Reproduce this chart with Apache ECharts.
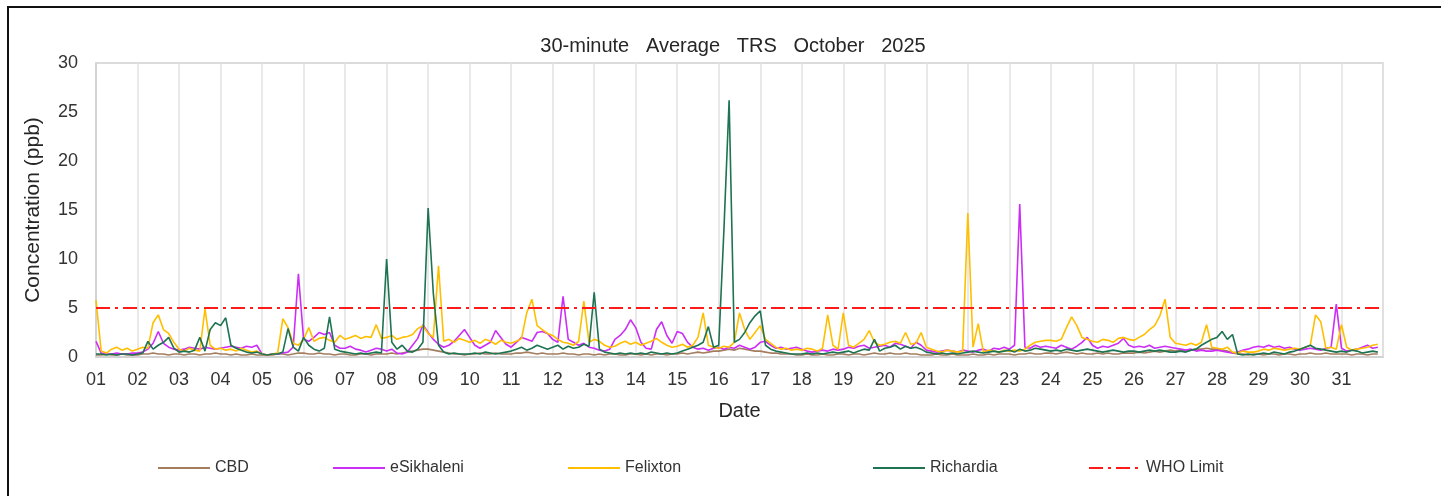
<!DOCTYPE html>
<html>
<head>
<meta charset="utf-8">
<script src="https://cdn.jsdelivr.net/npm/echarts@6/dist/echarts.min.js"></script>
<style>
  html, body { margin: 0; padding: 0; background: #fff; }
  #chart { width: 1441px; height: 496px; }
</style>
</head>
<body>
<div id="chart"></div>
<script>
// 3-hourly readings (8 per day), one row per day of October 2025
const stepsPerDay = 8;
const dayLabels = ['01','02','03','04','05','06','07','08','09','10','11','12','13','14','15','16',
  '17','18','19','20','21','22','23','24','25','26','27','28','29','30','31'];

const cbd = [
  0.2,0.2,0.3,0.2,0.2,0.3,0.2,0.2,
  0.2,0.3,0.3,0.4,0.3,0.3,0.2,0.3,
  0.3,0.2,0.3,0.3,0.2,0.3,0.3,0.4,
  0.3,0.3,0.2,0.3,0.2,0.2,0.3,0.2,
  0.2,0.2,0.2,0.3,0.3,0.2,0.3,0.4,
  0.4,0.3,0.3,0.4,0.3,0.3,0.2,0.3,
  0.3,0.2,0.2,0.3,0.3,0.2,0.3,0.3,
  0.3,0.4,0.3,0.4,0.5,0.6,0.7,0.8,
  0.8,0.7,0.6,0.5,0.4,0.3,0.3,0.2,
  0.3,0.3,0.4,0.3,0.3,0.4,0.3,0.3,
  0.3,0.4,0.4,0.5,0.4,0.3,0.4,0.3,
  0.3,0.3,0.4,0.3,0.3,0.2,0.3,0.3,
  0.2,0.3,0.2,0.3,0.3,0.2,0.2,0.3,
  0.3,0.2,0.3,0.2,0.3,0.3,0.2,0.3,
  0.3,0.4,0.3,0.4,0.5,0.4,0.5,0.6,
  0.6,0.7,0.8,0.7,0.9,0.8,0.7,0.6,
  0.6,0.5,0.4,0.4,0.3,0.3,0.3,0.2,
  0.2,0.3,0.2,0.2,0.3,0.2,0.2,0.3,
  0.3,0.2,0.3,0.3,0.2,0.3,0.4,0.3,
  0.3,0.4,0.3,0.3,0.4,0.3,0.3,0.2,
  0.2,0.2,0.3,0.2,0.2,0.3,0.2,0.2,
  0.2,0.3,0.2,0.2,0.3,0.2,0.3,0.3,
  0.3,0.2,0.3,0.3,0.4,0.3,0.3,0.4,
  0.4,0.3,0.4,0.5,0.4,0.3,0.4,0.3,
  0.3,0.4,0.3,0.4,0.3,0.3,0.4,0.4,
  0.4,0.5,0.4,0.5,0.6,0.5,0.6,0.7,
  0.6,0.7,0.6,0.7,0.8,0.8,0.9,0.8,
  0.8,0.7,0.6,0.4,0.3,0.3,0.2,0.3,
  0.3,0.2,0.3,0.3,0.2,0.3,0.3,0.2,
  0.3,0.3,0.4,0.3,0.3,0.4,0.3,0.3,
  0.3,0.3,0.2,0.3,0.3,0.2,0.3,0.3
];

const esikhaleni = [
  1.6,0.4,0.3,0.3,0.4,0.3,0.3,0.4,
  0.4,0.5,0.8,1.4,2.6,1.4,1.0,0.8,
  0.7,0.8,1.0,0.9,0.8,1.0,0.9,0.8,
  0.9,1.0,1.1,1.0,0.9,1.1,1.0,1.2,
  0.3,0.2,0.3,0.3,0.4,0.5,1.0,8.5,
  1.8,1.6,2.0,2.5,2.3,2.5,1.2,0.9,
  0.9,1.1,0.8,0.7,0.5,0.7,0.9,0.8,
  0.6,0.8,0.4,0.3,0.5,1.2,1.9,3.3,
  2.5,1.8,1.3,1.0,1.2,1.6,2.2,2.8,
  2.0,1.2,0.9,1.2,1.5,2.7,2.0,1.3,
  1.0,1.5,2.0,1.8,1.6,2.5,2.6,2.4,
  1.8,1.5,6.2,1.8,1.5,1.2,1.4,1.0,
  0.9,0.7,0.6,0.8,1.8,2.2,2.8,3.8,
  3.0,1.5,0.9,0.8,2.8,3.6,2.2,1.4,
  2.6,2.4,1.5,1.0,0.8,0.9,0.7,0.9,
  1.0,0.8,1.0,0.9,1.2,1.0,0.8,1.0,
  1.5,1.6,1.2,0.9,1.0,0.8,0.9,1.0,
  0.8,0.6,0.5,0.6,0.7,0.6,0.8,0.7,
  0.8,1.0,0.9,1.1,1.2,0.9,1.0,1.1,
  1.2,1.0,1.4,1.3,1.1,0.9,1.5,1.2,
  0.7,0.6,0.5,0.6,0.7,0.6,0.5,0.7,
  0.6,0.5,0.7,0.8,0.6,0.9,0.8,1.0,
  0.8,1.2,15.6,1.0,0.9,1.2,1.0,1.1,
  1.0,0.9,1.2,1.0,0.8,1.1,1.5,2.0,
  1.2,0.9,1.1,1.0,1.2,1.4,1.9,1.2,
  1.0,1.1,1.0,1.2,0.9,1.0,1.1,1.0,
  0.9,0.8,0.7,0.8,0.6,0.7,0.6,0.6,
  0.7,0.6,0.5,0.4,0.5,0.7,0.8,1.0,
  1.1,1.0,1.2,1.0,1.1,0.9,1.0,0.8,
  0.7,0.8,0.9,0.8,0.7,0.9,1.0,5.4,
  0.9,0.6,0.7,0.8,1.0,1.2,0.9,1.0
];

const felixton = [
  5.8,0.6,0.4,0.8,1.0,0.7,0.9,0.6,
  0.8,1.0,0.9,3.5,4.3,2.8,2.4,1.5,
  0.8,0.6,0.9,0.7,0.6,4.9,1.2,0.8,
  0.9,0.7,0.8,0.6,0.9,0.7,0.5,0.6,
  0.3,0.2,0.3,0.4,3.9,3.0,1.4,1.2,
  1.8,3.0,1.6,1.9,2.0,1.7,1.5,2.2,
  1.8,2.0,2.2,1.9,2.1,2.0,3.3,1.9,
  2.0,2.2,1.8,2.0,2.1,2.3,2.9,3.2,
  2.4,2.0,9.3,1.6,1.8,1.5,1.9,1.7,
  1.5,1.7,1.4,1.8,1.6,1.3,1.7,1.5,
  1.4,1.6,1.9,4.5,5.9,3.2,2.8,2.4,
  2.2,1.8,1.5,1.4,1.2,1.6,5.7,1.5,
  1.8,1.6,1.2,1.0,1.1,1.4,1.6,1.3,
  1.5,1.2,1.4,1.6,1.9,1.5,1.2,1.0,
  1.1,1.3,1.0,1.2,2.0,4.5,1.2,1.0,
  0.9,1.1,1.0,1.5,4.5,2.8,1.8,2.5,
  3.2,1.8,1.4,1.0,0.8,0.9,0.7,0.8,
  0.7,0.9,0.8,0.6,0.9,4.3,1.2,0.8,
  4.5,1.2,1.0,1.4,1.8,2.7,1.5,1.2,
  1.3,1.5,1.6,1.4,2.5,1.3,1.4,2.5,
  1.0,0.8,0.6,0.5,0.7,0.6,0.5,0.6,
  14.7,1.0,3.4,0.5,0.7,0.6,0.5,0.7,
  0.6,0.7,0.6,0.8,1.2,1.5,1.6,1.7,
  1.7,1.6,1.8,3.0,4.1,3.2,2.0,1.8,
  1.6,1.5,1.8,1.7,1.5,1.9,2.0,1.8,
  1.7,2.0,2.3,2.8,3.2,4.2,5.9,2.0,
  1.4,1.3,1.2,1.4,1.2,1.5,3.3,1.0,
  0.9,0.8,1.0,0.5,0.4,0.6,0.5,0.5,
  0.6,0.8,0.7,0.9,0.8,0.7,0.8,0.9,
  0.8,1.0,1.2,4.3,3.6,0.9,1.0,0.8,
  3.3,1.0,0.7,0.8,0.9,1.0,1.2,1.3
];

const richardia = [
  0.3,0.3,0.2,0.3,0.2,0.3,0.3,0.2,
  0.3,0.4,1.6,0.8,1.2,1.5,2.0,0.9,
  0.5,0.6,0.5,0.7,2.0,0.6,2.8,3.5,
  3.2,4.0,1.2,0.9,0.7,0.5,0.4,0.5,
  0.3,0.2,0.3,0.3,0.5,2.9,1.0,0.6,
  2.0,1.2,0.8,0.6,0.9,4.1,0.8,0.6,
  0.5,0.4,0.3,0.4,0.3,0.4,0.5,0.4,
  10.0,1.5,0.8,1.2,0.6,0.5,0.8,1.5,
  15.2,6.5,1.2,0.5,0.3,0.4,0.3,0.3,
  0.3,0.4,0.3,0.5,0.4,0.3,0.4,0.5,
  0.6,0.8,1.0,0.7,0.9,1.2,1.0,0.8,
  1.0,1.2,0.8,1.1,0.9,1.0,1.3,1.1,
  6.6,0.8,0.5,0.4,0.3,0.4,0.3,0.4,
  0.3,0.4,0.3,0.5,0.4,0.3,0.4,0.3,
  0.4,0.6,0.8,1.0,1.2,1.5,3.1,1.0,
  1.2,13.0,26.2,1.5,1.8,2.5,3.5,4.2,
  4.7,1.2,0.8,0.6,0.5,0.4,0.3,0.3,
  0.3,0.4,0.3,0.4,0.3,0.4,0.5,0.4,
  0.5,0.6,0.4,0.6,0.8,0.7,1.8,0.6,
  0.9,1.0,1.2,0.8,1.1,0.9,1.0,0.8,
  0.5,0.4,0.3,0.4,0.3,0.4,0.3,0.4,
  0.5,0.6,0.5,0.4,0.5,0.6,0.5,0.6,
  0.7,0.5,0.8,0.6,0.7,0.9,0.8,0.7,
  0.6,0.7,0.6,0.8,0.7,0.6,0.7,0.8,
  0.7,0.6,0.5,0.6,0.7,0.6,0.5,0.6,
  0.6,0.5,0.6,0.7,0.6,0.7,0.6,0.5,
  0.5,0.6,0.5,0.7,0.8,1.2,1.5,1.8,
  2.0,2.6,1.8,2.3,0.3,0.2,0.3,0.2,
  0.3,0.4,0.3,0.5,0.4,0.3,0.5,0.6,
  0.8,1.0,1.2,0.9,0.8,0.7,0.6,0.5,
  0.6,0.5,0.7,0.6,0.4,0.5,0.6,0.5
];

const whoLimit = 5;
const yTicks = { min: 0, max: 30, step: 5 };

// pair each reading with its time position in days
function toPoints(values) {
  return values.map((v, i) => [i / stepsPerDay, v]);
}

const chart = echarts.init(document.getElementById('chart'));

const font = 'Liberation Sans, Arial, sans-serif';
const seriesInfo = [
  { name: 'CBD', data: cbd, color: '#a47d5f' },
  { name: 'eSikhaleni', data: esikhaleni, color: '#cc2ef5' },
  { name: 'Felixton', data: felixton, color: '#ffbf00' },
  { name: 'Richardia', data: richardia, color: '#1d7352' }
];

const series = seriesInfo.map(s => ({
  name: s.name,
  type: 'line',
  data: toPoints(s.data),
  symbol: 'none',
  color: s.color,
  lineStyle: { width: 1.6, color: s.color }
}));

series.push({
  name: 'WHO Limit',
  type: 'line',
  data: [[0, whoLimit], [dayLabels.length, whoLimit]],
  symbol: 'none',
  color: '#ff1a1a',
  lineStyle: { width: 2, color: '#ff1a1a', type: [14, 5, 3, 5] },
  z: 5
});

const legendLeft = [152, 327, 562, 867, 1083];
const legends = ['CBD', 'eSikhaleni', 'Felixton', 'Richardia', 'WHO Limit'].map((n, i) => ({
  data: [n],
  left: legendLeft[i],
  top: 455,
  itemWidth: 52,
  itemHeight: 14,
  selectedMode: false,
  itemStyle: { opacity: 0 },
  lineStyle: { width: 2 },
  textStyle: { fontFamily: font, fontSize: 16, color: '#333' }
}));

const option = {
  animation: false,
  backgroundColor: '#fff',
  title: {
    text: '30-minute   Average   TRS   October   2025',
    left: 728,
    textAlign: 'center',
    top: 31,
    textStyle: { fontFamily: font, fontSize: 20, fontWeight: 'normal', color: '#262626' }
  },
  legend: legends,
  grid: {
    left: 96, right: 58, top: 63, bottom: 139,
    show: true, borderColor: '#d0d0d0', borderWidth: 1.5
  },
  xAxis: {
    type: 'value',
    min: 0,
    max: dayLabels.length,
    interval: 1,
    name: 'Date',
    nameLocation: 'middle',
    nameGap: 44,
    nameTextStyle: { fontFamily: font, fontSize: 20, color: '#262626' },
    axisLine: { lineStyle: { color: '#cfcfcf', width: 1.5 } },
    axisTick: { show: false },
    axisLabel: {
      fontFamily: font, fontSize: 18, color: '#333', margin: 14,
      formatter: v => dayLabels[v] || ''
    },
    splitLine: { show: true, lineStyle: { color: '#e2e2e2', width: 1.5 } }
  },
  yAxis: {
    type: 'value',
    min: yTicks.min,
    max: yTicks.max,
    interval: yTicks.step,
    name: 'Concentration (ppb)',
    nameLocation: 'middle',
    nameGap: 52,
    nameTextStyle: { fontFamily: font, fontSize: 21, color: '#262626' },
    axisLine: { show: true, lineStyle: { color: '#d0d0d0', width: 1.5 } },
    axisTick: { show: false },
    axisLabel: { fontFamily: font, fontSize: 18, color: '#333', margin: 18 },
    splitLine: { show: false }
  },
  graphic: [{
    type: 'rect',
    shape: { x: 8, y: 7, width: 1600, height: 700 },
    style: { fill: 'none', stroke: '#111', lineWidth: 2 },
    silent: true
  }],
  series: series
};

chart.setOption(option);
</script>
</body>
</html>
